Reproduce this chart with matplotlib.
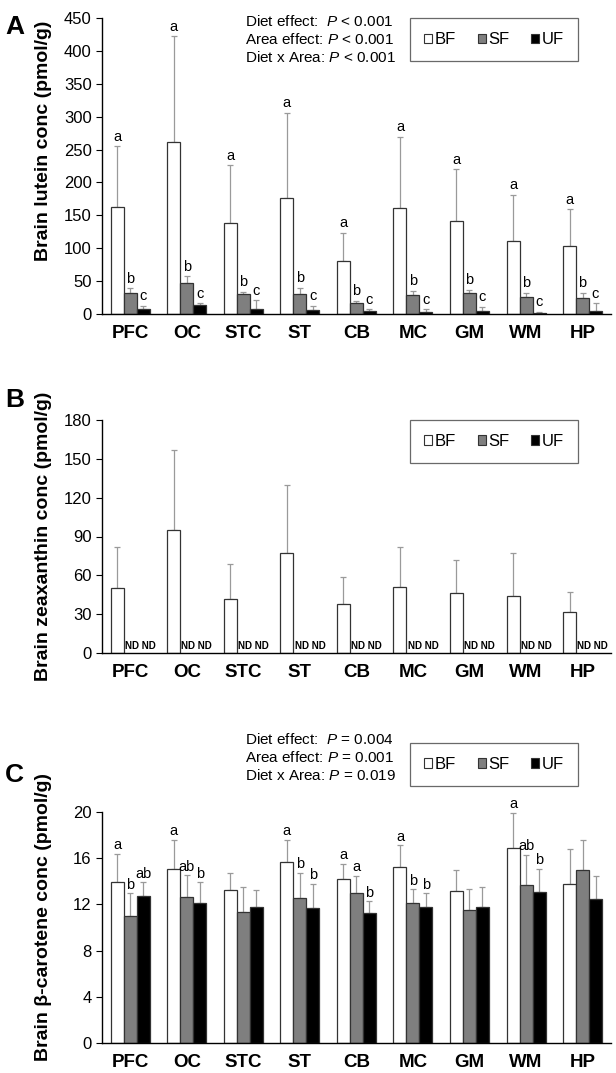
import numpy as np
import matplotlib
matplotlib.use('Agg')
import matplotlib.pyplot as plt
from matplotlib.patches import Patch

plt.rcParams['font.family'] = ['Liberation Sans', 'DejaVu Sans']
plt.rcParams['mathtext.fontset'] = 'custom'
plt.rcParams['mathtext.it'] = 'Liberation Sans:italic'
plt.rcParams['mathtext.rm'] = 'Liberation Sans'

areas = ['PFC', 'OC', 'STC', 'ST', 'CB', 'MC', 'GM', 'WM', 'HP']
diets = ['BF', 'SF', 'UF']

# panel A: lutein
lut_bf = [162, 262, 138, 176, 81, 161, 142, 111, 104]
lut_bf_err = [93, 160, 88, 130, 42, 108, 78, 70, 55]
lut_sf = [32, 47, 30, 31, 16, 29, 32, 26, 25]
lut_sf_err = [7, 10, 4, 9, 4, 6, 5, 6, 7]
lut_uf = [7, 14, 8, 6, 4, 3, 5, 2, 4]
lut_uf_err = [5, 2, 13, 6, 3, 4, 6, 1, 12]
lut_letters = [['a', 'b', 'c']] * 9

# panel B: zeaxanthin (SF, UF not detected)
zea_bf = [50, 95, 42, 77, 38, 51, 46, 44, 32]
zea_bf_err = [32, 62, 27, 53, 21, 31, 26, 33, 15]

# panel C: beta-carotene
car_bf = [13.9, 15.05, 13.2, 15.65, 14.2, 15.25, 13.15, 16.9, 13.8]
car_bf_err = [2.45, 2.55, 1.55, 1.95, 1.3, 1.85, 1.85, 3.05, 3.0]
car_sf = [11.0, 12.65, 11.35, 12.55, 13.0, 12.1, 11.55, 13.7, 14.95]
car_sf_err = [1.95, 1.85, 2.15, 2.2, 1.45, 1.2, 1.75, 2.6, 2.65]
car_uf = [12.75, 12.1, 11.8, 11.65, 11.25, 11.8, 11.8, 13.1, 12.45]
car_uf_err = [1.15, 1.8, 1.4, 2.15, 1.0, 1.15, 1.7, 1.95, 2.0]
car_letters = [['a', 'b', 'ab'], ['a', 'ab', 'b'], ['', '', ''], ['a', 'b', 'b'],
               ['a', 'a', 'b'], ['a', 'b', 'b'], ['', '', ''], ['a', 'ab', 'b'],
               ['', '', '']]

colors = ['white', '#7f7f7f', 'black']
edge = '#333333'
errc = '#9a9a9a'
w = 0.23

fig = plt.figure(figsize=(6.16, 10.73), dpi=100)
axA = fig.add_axes([0.1656, 0.7074, 0.826, 0.2758])
axB = fig.add_axes([0.1656, 0.3914, 0.826, 0.2172])
axC = fig.add_axes([0.1656, 0.0280, 0.826, 0.2153])

x = np.arange(len(areas))


def draw(ax, means, errs, letters, ymax, step, ylabel, pad, label_y, leg_y):
    for k in range(3):
        if means[k] is None:
            continue
        ax.bar(x + (k - 1) * w, means[k], w, color=colors[k], edgecolor=edge,
               linewidth=0.9, zorder=2)
        ax.errorbar(x + (k - 1) * w, means[k], yerr=[np.zeros(len(areas)), errs[k]],
                    fmt='none', ecolor=errc, elinewidth=0.9, capsize=2.2,
                    capthick=0.9, zorder=1)
        if letters is not None:
            for i in range(len(areas)):
                ax.text(x[i] + (k - 1) * w, means[k][i] + errs[k][i] + pad,
                        letters[i][k], ha='center', va='bottom', fontsize=10.5)
    ax.set_xlim(-0.5, len(areas) - 0.5)
    ax.set_ylim(0, ymax)
    ax.set_yticks(np.arange(0, ymax + 1e-9, step))
    ax.set_xticks(x)
    ax.set_xticklabels(areas, fontsize=13.5, fontweight='bold')
    ax.tick_params(axis='x', length=0, pad=8)
    ax.tick_params(axis='y', labelsize=12, length=4, direction='out')
    ax.spines['top'].set_visible(False)
    ax.spines['right'].set_visible(False)
    ax.spines['left'].set_linewidth(1.0)
    ax.spines['bottom'].set_linewidth(1.0)
    ax.set_ylabel(ylabel, fontsize=14, fontweight='bold')
    ax.yaxis.set_label_coords(-0.098, label_y)
    handles = [Patch(facecolor=colors[k], edgecolor=edge, linewidth=0.8) for k in range(3)]
    leg = ax.legend(handles, diets, ncol=3, loc='upper right',
                    bbox_to_anchor=(0.936, leg_y),
                    fontsize=12, handlelength=0.5, handleheight=0.5,
                    handletextpad=0.15, columnspacing=1.3, fancybox=False,
                    edgecolor='#444444', borderpad=0.85, borderaxespad=0)
    leg.get_frame().set_linewidth(0.9)


draw(axA, [lut_bf, lut_sf, lut_uf], [lut_bf_err, lut_sf_err, lut_uf_err],
     lut_letters, 450, 50, 'Brain lutein conc (pmol/g)', 4, 0.585, 1.0)
draw(axB, [zea_bf, None, None], [zea_bf_err, None, None], None, 180, 30,
     'Brain zeaxanthin conc (pmol/g)', 0, 0.5, 1.0)
draw(axC, [car_bf, car_sf, car_uf], [car_bf_err, car_sf_err, car_uf_err],
     car_letters, 20, 4, 'Brain β-carotene conc (pmol/g)', 0.15, 0.545, 1.30)

for i in range(len(areas)):
    axB.text(x[i] - 0.5 * w + 0.02, 1.5, 'ND ND', ha='left', va='bottom',
             fontsize=7, fontweight='bold')

statsA = ['Diet effect:  $P$ < 0.001', 'Area effect: $P$ < 0.001', 'Diet x Area: $P$ < 0.001']
statsC = ['Diet effect:  $P$ = 0.004', 'Area effect: $P$ = 0.001', 'Diet x Area: $P$ = 0.019']
for j, s in enumerate(statsA):
    fig.text(0.398, 0.987 - j * 0.0168, s, fontsize=11, va='top', ha='left')
for j, s in enumerate(statsC):
    fig.text(0.398, 0.318 - j * 0.0168, s, fontsize=11, va='top', ha='left')

fig.text(0.008, 0.986, 'A', fontsize=19, fontweight='bold', va='top')
fig.text(0.008, 0.638, 'B', fontsize=19, fontweight='bold', va='top')
fig.text(0.008, 0.289, 'C', fontsize=19, fontweight='bold', va='top')

fig.savefig('out.png', dpi=100)
